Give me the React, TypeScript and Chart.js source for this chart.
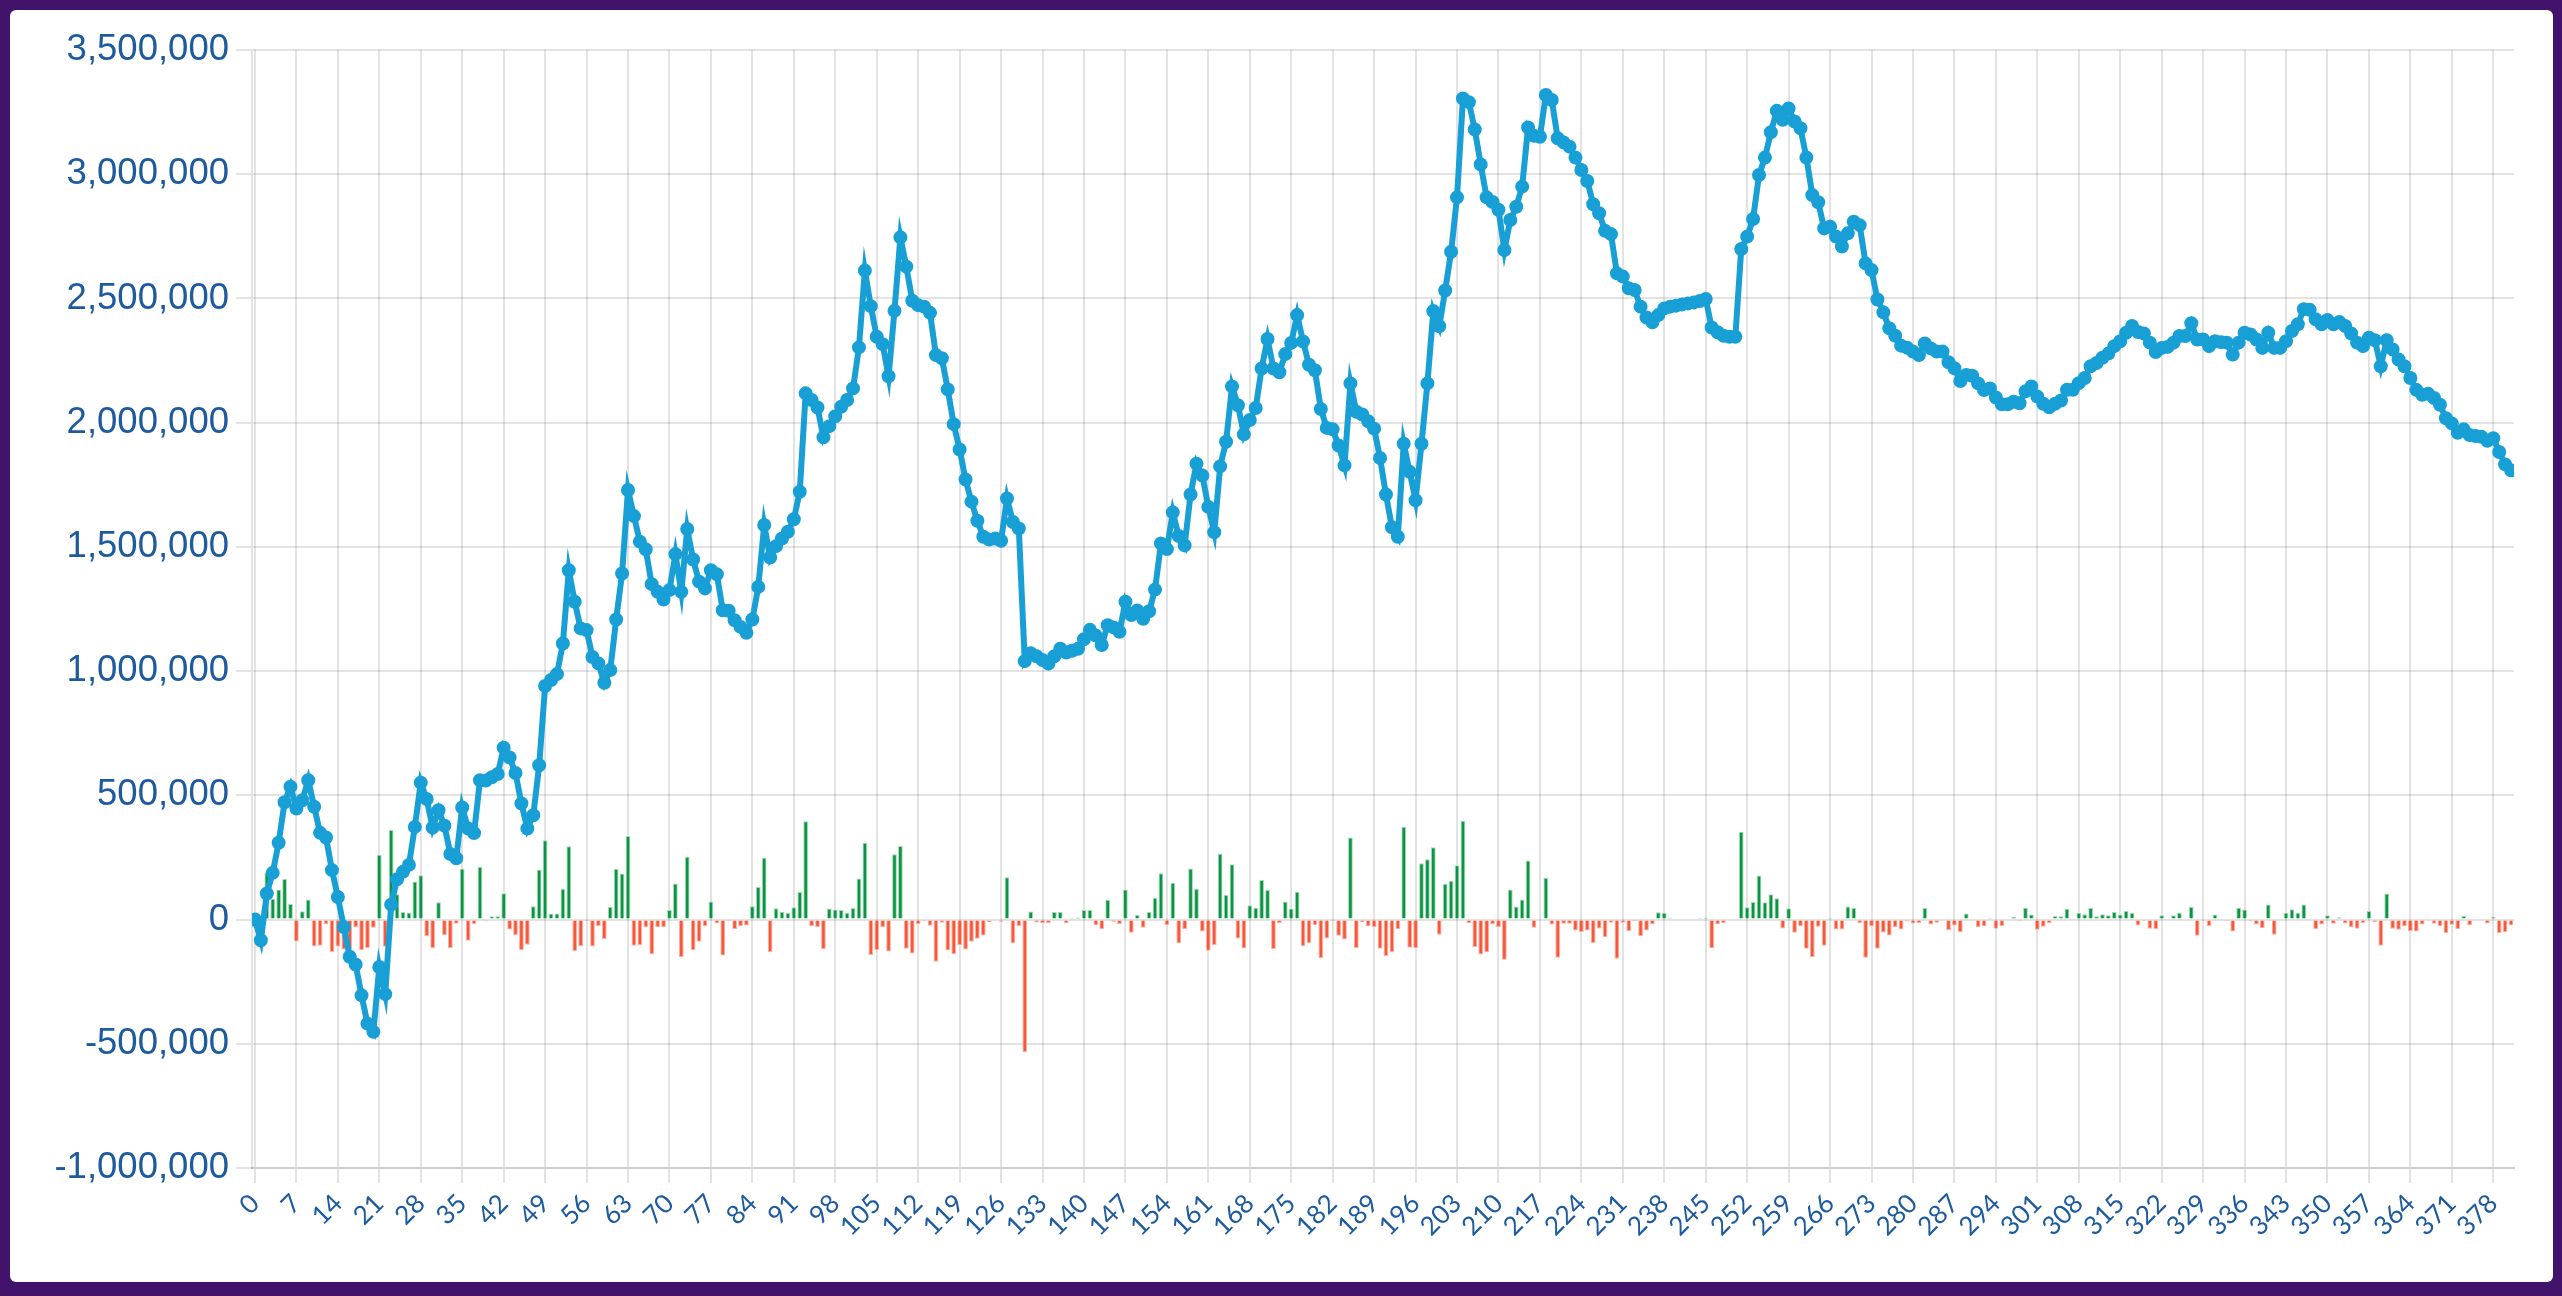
import React, { useEffect, useRef } from "react";
import { Chart, registerables } from "chart.js";

Chart.register(...registerables);

// Cumulative value (line), index 0..99
const cumulativePart1 = [
  0, -83000, 105000, 188000, 309000, 472000, 535000, 447000, 480000, 561000,
  454000, 349000, 330000, 199000, 91000, -30000, -150000, -181000, -305000, -419000,
  -452000, -191000, -300000, 60000, 162000, 192000, 220000, 373000, 551000, 485000,
  370000, 440000, 378000, 264000, 247000, 451000, 366000, 348000, 561000, 560000,
  573000, 586000, 692000, 652000, 590000, 467000, 366000, 420000, 621000, 940000,
  964000, 988000, 1111000, 1406000, 1279000, 1172000, 1165000, 1057000, 1031000, 953000,
  1004000, 1208000, 1393000, 1729000, 1624000, 1521000, 1490000, 1350000, 1319000, 1288000,
  1326000, 1471000, 1319000, 1572000, 1449000, 1360000, 1333000, 1406000, 1390000, 1245000,
  1243000, 1205000, 1178000, 1154000, 1208000, 1339000, 1588000, 1457000, 1503000, 1534000,
  1561000, 1611000, 1722000, 2118000, 2091000, 2061000, 1941000, 1986000, 2026000, 2064000,
];

// index 100..199
const cumulativePart2 = [
  2091000, 2138000, 2303000, 2612000, 2469000, 2346000, 2316000, 2187000, 2450000, 2746000,
  2628000, 2491000, 2473000, 2467000, 2442000, 2272000, 2259000, 2134000, 1994000, 1892000,
  1771000, 1682000, 1605000, 1541000, 1530000, 1534000, 1525000, 1695000, 1600000, 1574000,
  1040000, 1072000, 1060000, 1045000, 1030000, 1060000, 1090000, 1075000, 1082000, 1090000,
  1128000, 1166000, 1143000, 1105000, 1185000, 1176000, 1158000, 1279000, 1226000, 1244000,
  1211000, 1241000, 1328000, 1514000, 1491000, 1639000, 1544000, 1506000, 1711000, 1835000,
  1787000, 1661000, 1559000, 1824000, 1923000, 2146000, 2070000, 1953000, 2011000, 2059000,
  2218000, 2337000, 2218000, 2203000, 2276000, 2321000, 2433000, 2327000, 2233000, 2211000,
  2055000, 1979000, 1973000, 1908000, 1828000, 2158000, 2044000, 2033000, 2006000, 1976000,
  1858000, 1711000, 1579000, 1541000, 1915000, 1802000, 1688000, 1915000, 2158000, 2449000,
];

// index 200..299
const cumulativePart3 = [
  2388000, 2532000, 2688000, 2907000, 3305000, 3290000, 3180000, 3039000, 2907000, 2888000,
  2857000, 2695000, 2816000, 2869000, 2950000, 3188000, 3155000, 3151000, 3319000, 3299000,
  3145000, 3128000, 3111000, 3067000, 3017000, 2973000, 2879000, 2843000, 2772000, 2759000,
  2601000, 2588000, 2541000, 2534000, 2467000, 2423000, 2404000, 2433000, 2460000, 2467000,
  2471000, 2476000, 2480000, 2484000, 2490000, 2498000, 2383000, 2364000, 2350000, 2346000,
  2346000, 2699000, 2749000, 2820000, 2997000, 3067000, 3169000, 3255000, 3219000, 3265000,
  3212000, 3185000, 3067000, 2916000, 2887000, 2782000, 2789000, 2749000, 2709000, 2762000,
  2809000, 2795000, 2641000, 2614000, 2496000, 2444000, 2380000, 2350000, 2310000, 2302000,
  2286000, 2272000, 2319000, 2299000, 2286000, 2286000, 2243000, 2219000, 2168000, 2192000,
  2189000, 2158000, 2131000, 2138000, 2101000, 2074000, 2074000, 2084000, 2078000, 2126000,
];

// index 300..381
const cumulativePart4 = [
  2146000, 2105000, 2076000, 2062000, 2076000, 2089000, 2132000, 2132000, 2159000, 2180000,
  2227000, 2240000, 2261000, 2278000, 2308000, 2328000, 2362000, 2389000, 2365000, 2359000,
  2322000, 2284000, 2301000, 2305000, 2322000, 2349000, 2349000, 2400000, 2335000, 2335000,
  2308000, 2328000, 2324000, 2322000, 2274000, 2322000, 2362000, 2355000, 2335000, 2301000,
  2362000, 2301000, 2301000, 2328000, 2369000, 2396000, 2457000, 2454000, 2416000, 2396000,
  2413000, 2396000, 2405000, 2389000, 2359000, 2322000, 2308000, 2342000, 2332000, 2227000,
  2332000, 2295000, 2254000, 2227000, 2180000, 2132000, 2112000, 2116000, 2099000, 2072000,
  2018000, 1997000, 1959000, 1973000, 1950000, 1946000, 1943000, 1927000, 1937000, 1882000,
  1832000, 1808000,
];

const xTickLabels = [
  "0", "7", "14", "21", "28", "35", "42", "49", "56", "63", "70", "77", "84", "91",
  "98", "105", "112", "119", "126", "133", "140", "147", "154", "161", "168", "175",
  "182", "189", "196", "203", "210", "217", "224", "231", "238", "245", "252", "259",
  "266", "273", "280", "287", "294", "301", "308", "315", "322", "329", "336", "343",
  "350", "357", "364", "371", "378",
];

const yTickValues = [-1000000, -500000, 0, 500000, 1000000, 1500000, 2000000, 2500000, 3000000, 3500000];

const LINE_COLOR = "#189fd6";
const GREEN = "#0b9444";
const GREEN_EDGE = "#a3d9b4";
const RED = "#f9573a";
const RED_EDGE = "#f9b0a2";
const GRID = "rgba(0,0,0,0.11)";
const LABEL = "#1d5a9e";
const PURPLE = "#41136a";

export default function App() {
  const canvasRef = useRef<HTMLCanvasElement | null>(null);

  useEffect(() => {
    const canvas = canvasRef.current;
    if (!canvas) return;

    const cumulative = [...cumulativePart1, ...cumulativePart2, ...cumulativePart3, ...cumulativePart4];
    // the bars are the step-to-step change of the cumulative line
    const change = cumulative.map((v, i) => (i === 0 ? 0 : v - cumulative[i - 1]));
    const linePoints = cumulative.map((v, i) => ({ x: i, y: v }));
    const barPoints = change.map((v, i) => ({ x: i, y: v }));
    const gridTicks = xTickLabels.map((l) => Number(l) + 3.5);

    const chart = new Chart(canvas, {
      type: "bar",
      data: {
        datasets: [
          {
            type: "line",
            data: linePoints,
            borderColor: LINE_COLOR,
            backgroundColor: LINE_COLOR,
            borderWidth: 6,
            pointRadius: 6,
            pointBorderWidth: 2,
            pointBackgroundColor: LINE_COLOR,
            pointBorderColor: LINE_COLOR,
            tension: 0,
            order: 0,
          } as any,
          {
            type: "bar",
            data: barPoints,
            backgroundColor: change.map((v) => (v >= 0 ? GREEN : RED)),
            borderColor: change.map((v) => (v >= 0 ? GREEN_EDGE : RED_EDGE)),
            borderWidth: 1,
            barPercentage: 1,
            categoryPercentage: 0.8,
            order: 1,
          } as any,
        ],
      },
      options: {
        animation: false,
        responsive: true,
        maintainAspectRatio: false,
        layout: { padding: { left: 0, top: 40, right: 39, bottom: 0 } },
        plugins: { legend: { display: false }, tooltip: { enabled: false } },
        scales: {
          x: {
            type: "linear",
            min: -0.5,
            max: cumulative.length - 0.5,
            offset: false,
            afterBuildTicks: (scale: any) => {
              scale.ticks = gridTicks.map((v) => ({ value: v }));
            },
            afterFit: (scale: any) => {
              scale.height = 114;
            },
            ticks: {
              autoSkip: false,
              minRotation: 45,
              maxRotation: 45,
              labelOffset: -20.7,
              padding: 5,
              color: LABEL,
              font: { family: "Lato, 'Noto Sans', sans-serif", size: 26 },
              callback: (_v: any, i: number) => xTickLabels[i],
            },
            grid: { color: GRID, lineWidth: 2, tickLength: 15, drawTicks: true },
            border: { color: "#cfcfcf", width: 2 },
          },
          y: {
            min: yTickValues[0],
            max: yTickValues[yTickValues.length - 1],
            afterBuildTicks: (scale: any) => {
              scale.ticks = yTickValues.map((v) => ({ value: v }));
            },
            afterFit: (scale: any) => {
              scale.width = 242;
            },
            ticks: {
              padding: 7,
              color: LABEL,
              font: { family: "'Liberation Sans', Arial, sans-serif", size: 36.5 },
              callback: (v: any) => Number(v).toLocaleString("en-US"),
            },
            grid: { color: GRID, lineWidth: 2, tickLength: 16 },
            border: { color: GRID, width: 2 },
          },
        },
      } as any,
    });

    return () => chart.destroy();
  }, []);

  return (
    <div style={{ position: "fixed", left: 0, top: 0, width: 2562, height: 1296, background: PURPLE }}>
      <div
        style={{
          position: "absolute",
          left: 10,
          top: 10,
          width: 2543,
          height: 1272,
          background: "#ffffff",
          borderRadius: 6,
          overflow: "hidden",
        }}
      >
        <div style={{ position: "relative", width: 2543, height: 1272 }}>
          <canvas ref={canvasRef} />
        </div>
      </div>
    </div>
  );
}
